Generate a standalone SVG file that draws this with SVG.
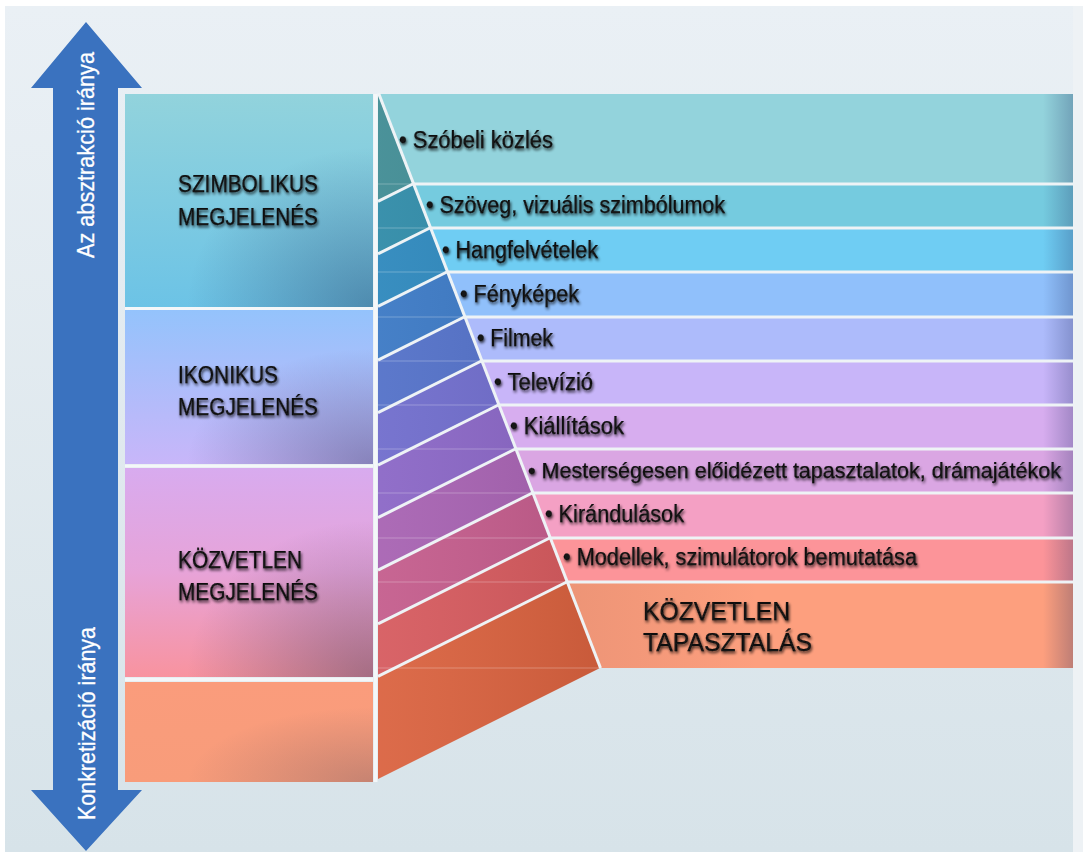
<svg xmlns="http://www.w3.org/2000/svg" width="1083" height="852" viewBox="0 0 1083 852">
<defs>
<style>
.lbl{font-family:"Liberation Sans",Arial,sans-serif;font-size:23.5px;fill:#121212;stroke:#121212;stroke-width:0.25;filter:url(#sh)}
.lng{font-size:21.8px}
.big{font-family:"Liberation Sans",Arial,sans-serif;font-size:23px;fill:#121212;stroke:#121212;stroke-width:0.25;filter:url(#sh)}
.ttl{font-family:"Liberation Sans",Arial,sans-serif;font-size:26px;fill:#121212;stroke:#121212;stroke-width:0.25;filter:url(#sh)}
.arw{font-family:"Liberation Sans",Arial,sans-serif;font-size:24px;fill:#ffffff;stroke:#ffffff;stroke-width:0.3}
.wl{stroke:#eef3f6;stroke-width:3;fill:none}
.fl{stroke:#ffffff;stroke-opacity:0.18;stroke-width:1.5;fill:none}
</style>
<linearGradient id="bg" x1="0" y1="0" x2="0" y2="1">
<stop offset="0" stop-color="#eaf0f5"/><stop offset="1" stop-color="#d7e3e9"/>
</linearGradient>
<linearGradient id="g1" x1="0" y1="0" x2="0" y2="1">
<stop offset="0" stop-color="#92d3dc"/><stop offset="1" stop-color="#6cc3e6"/>
</linearGradient>
<linearGradient id="g2" x1="0" y1="0" x2="0" y2="1">
<stop offset="0" stop-color="#94c3fc"/><stop offset="1" stop-color="#c8b6f9"/>
</linearGradient>
<linearGradient id="g3" x1="0" y1="0" x2="0" y2="1">
<stop offset="0" stop-color="#d8abef"/><stop offset="0.5" stop-color="#e7a3d8"/><stop offset="1" stop-color="#f8939f"/>
</linearGradient>
<linearGradient id="g4" x1="0" y1="0" x2="0" y2="1">
<stop offset="0" stop-color="#fa9c7c"/><stop offset="1" stop-color="#f89c7a"/>
</linearGradient>
<radialGradient id="corner" cx="1" cy="1" r="0.75">
<stop offset="0" stop-color="#1e2f55" stop-opacity="0.38"/><stop offset="1" stop-color="#1e2f55" stop-opacity="0"/>
</radialGradient>
<linearGradient id="redge" x1="0" y1="0" x2="1" y2="0">
<stop offset="0" stop-color="#1e2a60" stop-opacity="0"/><stop offset="1" stop-color="#1e2a60" stop-opacity="0.28"/>
</linearGradient>
<linearGradient id="ledge" gradientUnits="userSpaceOnUse" x1="380" y1="0" x2="760" y2="0">
<stop offset="0" stop-color="#3a1a20" stop-opacity="0.16"/><stop offset="1" stop-color="#3a1a20" stop-opacity="0"/>
</linearGradient>
<linearGradient id="fan" gradientUnits="userSpaceOnUse" x1="378" y1="0" x2="600" y2="0">
<stop offset="0" stop-color="#ffffff" stop-opacity="0.06"/><stop offset="1" stop-color="#000000" stop-opacity="0.08"/>
</linearGradient>
<filter id="sh" x="-10%" y="-40%" width="120%" height="180%">
<feGaussianBlur in="SourceAlpha" stdDeviation="1.8"/>
<feOffset dx="1" dy="2"/>
<feComponentTransfer><feFuncA type="linear" slope="0.8"/></feComponentTransfer>
<feMerge><feMergeNode/><feMergeNode in="SourceGraphic"/></feMerge>
</filter>
</defs>

<rect x="0" y="0" width="1083" height="852" fill="#ffffff"/>
<rect x="5" y="6" width="1068" height="846" fill="url(#bg)"/>
<rect x="1073" y="6" width="10" height="846" fill="#eef2f5"/>

<g id="arrow">
<polygon points="86,22 142,88 118,88 118,790 142,790 86,851 31,790 53,790 53,88 31,88" fill="#3a72bf"/>
<text class="arw" transform="translate(94,155) rotate(-90)" text-anchor="middle" textLength="206" lengthAdjust="spacingAndGlyphs">Az absztrakció iránya</text>
<text class="arw" transform="translate(95,723.5) rotate(-90)" text-anchor="middle" textLength="193" lengthAdjust="spacingAndGlyphs">Konkretizáció iránya</text>
</g>

<g id="box-szimbolikus">
<rect x="125" y="94" width="248" height="213" fill="url(#g1)"/>
<rect x="125" y="94" width="248" height="213" fill="url(#corner)"/>
<text class="big" x="178" y="192" textLength="140" lengthAdjust="spacingAndGlyphs">SZIMBOLIKUS</text>
<text class="big" x="178" y="225" textLength="140" lengthAdjust="spacingAndGlyphs">MEGJELENÉS</text>
</g>
<g id="box-ikonikus">
<rect x="125" y="310" width="248" height="154" fill="url(#g2)"/>
<rect x="125" y="310" width="248" height="154" fill="url(#corner)"/>
<text class="big" x="178" y="383" textLength="100" lengthAdjust="spacingAndGlyphs">IKONIKUS</text>
<text class="big" x="178" y="415" textLength="140" lengthAdjust="spacingAndGlyphs">MEGJELENÉS</text>
</g>
<g id="box-kozvetlen">
<rect x="125" y="468" width="248" height="209" fill="url(#g3)"/>
<rect x="125" y="468" width="248" height="209" fill="url(#corner)"/>
<text class="big" x="178" y="568" textLength="124" lengthAdjust="spacingAndGlyphs">KÖZVETLEN</text>
<text class="big" x="178" y="600" textLength="140" lengthAdjust="spacingAndGlyphs">MEGJELENÉS</text>
</g>
<g id="box-alap">
<rect x="125" y="682" width="248" height="100" fill="url(#g4)"/>
<rect x="125" y="682" width="248" height="100" fill="url(#corner)" opacity="0.6"/>
</g>

<g id="fan-stripes">
<polygon points="378,94 412.8,184 378,201.4" fill="#3f8b93"/>
<polygon points="378,201.4 412.8,184 429.8,228 378,253.9" fill="#2e8aa7"/>
<polygon points="378,253.9 429.8,228 446.8,272 378,306.4" fill="#2c87bc"/>
<polygon points="378,306.4 446.8,272 464.2,317 378,360.1" fill="#3a78c4"/>
<polygon points="378,360.1 464.2,317 481.3,361 378,412.6" fill="#5270c8"/>
<polygon points="378,412.6 481.3,361 498.3,405 378,465.1" fill="#6f6ccc"/>
<polygon points="378,465.1 498.3,405 515.3,449 378,517.6" fill="#8a66c6"/>
<polygon points="378,517.6 515.3,449 532.3,493 378,570.2" fill="#a762b2"/>
<polygon points="378,570.2 532.3,493 549.7,538 378,623.9" fill="#c45c8c"/>
<polygon points="378,623.9 549.7,538 566.7,582 378,676.4" fill="#d65a5e"/>
<polygon points="378,676.4 566.7,582 600,668 378,779" fill="#da623f"/>
<polygon points="378,94 600,668 378,779" fill="url(#fan)"/>
</g>

<g id="band-1"><polygon points="378,94 1073,94 1073,184 412.8,184" fill="#93d3dc"/>
<text class="lbl" x="399" y="148" textLength="154" lengthAdjust="spacingAndGlyphs">• Szóbeli közlés</text></g>
<g id="band-2"><polygon points="412.8,184 1073,184 1073,228 429.8,228" fill="#75cbdf"/>
<text class="lbl" x="426" y="213" textLength="299" lengthAdjust="spacingAndGlyphs">• Szöveg, vizuális szimbólumok</text></g>
<g id="band-3"><polygon points="429.8,228 1073,228 1073,272 446.8,272" fill="#6fcdf3"/>
<text class="lbl" x="442" y="258" textLength="156" lengthAdjust="spacingAndGlyphs">• Hangfelvételek</text></g>
<g id="band-4"><polygon points="446.8,272 1073,272 1073,317 464.2,317" fill="#90c0fb"/>
<text class="lbl" x="460" y="302" textLength="119" lengthAdjust="spacingAndGlyphs">• Fényképek</text></g>
<g id="band-5"><polygon points="464.2,317 1073,317 1073,361 481.3,361" fill="#adbbfb"/>
<text class="lbl" x="477" y="346" textLength="76" lengthAdjust="spacingAndGlyphs">• Filmek</text></g>
<g id="band-6"><polygon points="481.3,361 1073,361 1073,405 498.3,405" fill="#c8b5f9"/>
<text class="lbl" x="494" y="390" textLength="99" lengthAdjust="spacingAndGlyphs">• Televízió</text></g>
<g id="band-7"><polygon points="498.3,405 1073,405 1073,449 515.3,449" fill="#d7adef"/>
<text class="lbl" x="510" y="434" textLength="114" lengthAdjust="spacingAndGlyphs">• Kiállítások</text></g>
<g id="band-8"><polygon points="515.3,449 1073,449 1073,493 532.3,493" fill="#daa6e3"/>
<text class="lbl lng" x="528" y="478" textLength="533" lengthAdjust="spacingAndGlyphs">• Mesterségesen előidézett tapasztalatok, drámajátékok</text></g>
<g id="band-9"><polygon points="532.3,493 1073,493 1073,538 549.7,538" fill="#f4a0c4"/>
<text class="lbl" x="545" y="522" textLength="139" lengthAdjust="spacingAndGlyphs">• Kirándulások</text></g>
<g id="band-10"><polygon points="549.7,538 1073,538 1073,582 566.7,582" fill="#fc9499"/>
<text class="lbl" x="563" y="565" textLength="354" lengthAdjust="spacingAndGlyphs">• Modellek, szimulátorok bemutatása</text></g>
<g id="band-11"><polygon points="566.7,582 1073,582 1073,668 600,668" fill="#fd9f7e"/>
<polygon points="566.7,582 760,582 760,668 600,668" fill="url(#ledge)"/>
<text class="ttl" x="643" y="620" textLength="147" lengthAdjust="spacingAndGlyphs">KÖZVETLEN</text>
<text class="ttl" x="643" y="651" textLength="169" lengthAdjust="spacingAndGlyphs">TAPASZTALÁS</text></g>

<rect x="1043" y="94" width="30" height="574" fill="url(#redge)"/>

<g id="connectors">
<line class="fl" x1="378" y1="184" x2="412.8" y2="184"/>
<line class="fl" x1="378" y1="228" x2="429.8" y2="228"/>
<line class="fl" x1="378" y1="272" x2="446.8" y2="272"/>
<line class="fl" x1="378" y1="317" x2="464.2" y2="317"/>
<line class="fl" x1="378" y1="361" x2="481.3" y2="361"/>
<line class="fl" x1="378" y1="405" x2="498.3" y2="405"/>
<line class="fl" x1="378" y1="449" x2="515.3" y2="449"/>
<line class="fl" x1="378" y1="493" x2="532.3" y2="493"/>
<line class="fl" x1="378" y1="538" x2="549.7" y2="538"/>
<line class="fl" x1="378" y1="582" x2="566.7" y2="582"/>
<line class="fl" x1="378" y1="668" x2="600" y2="668"/>
<line class="wl" x1="412.8" y1="184" x2="1073" y2="184"/>
<line class="wl" x1="429.8" y1="228" x2="1073" y2="228"/>
<line class="wl" x1="446.8" y1="272" x2="1073" y2="272"/>
<line class="wl" x1="464.2" y1="317" x2="1073" y2="317"/>
<line class="wl" x1="481.3" y1="361" x2="1073" y2="361"/>
<line class="wl" x1="498.3" y1="405" x2="1073" y2="405"/>
<line class="wl" x1="515.3" y1="449" x2="1073" y2="449"/>
<line class="wl" x1="532.3" y1="493" x2="1073" y2="493"/>
<line class="wl" x1="549.7" y1="538" x2="1073" y2="538"/>
<line class="wl" x1="566.7" y1="582" x2="1073" y2="582"/>
<line class="wl" x1="378" y1="201.4" x2="412.8" y2="184"/>
<line class="wl" x1="378" y1="253.9" x2="429.8" y2="228"/>
<line class="wl" x1="378" y1="306.4" x2="446.8" y2="272"/>
<line class="wl" x1="378" y1="360.1" x2="464.2" y2="317"/>
<line class="wl" x1="378" y1="412.6" x2="481.3" y2="361"/>
<line class="wl" x1="378" y1="465.1" x2="498.3" y2="405"/>
<line class="wl" x1="378" y1="517.6" x2="515.3" y2="449"/>
<line class="wl" x1="378" y1="570.2" x2="532.3" y2="493"/>
<line class="wl" x1="378" y1="623.9" x2="549.7" y2="538"/>
<line class="wl" x1="378" y1="676.4" x2="566.7" y2="582"/>
<line class="wl" x1="378.5" y1="93" x2="600.5" y2="668"/>
<line x1="375.5" y1="94" x2="375.5" y2="782" stroke="#f4f7f9" stroke-width="4"/>
<line x1="125" y1="308.5" x2="373" y2="308.5" stroke="#f4f7f9" stroke-width="3"/>
<line x1="125" y1="466" x2="373" y2="466" stroke="#f4f7f9" stroke-width="3"/>
<line x1="125" y1="679.5" x2="373" y2="679.5" stroke="#f4f7f9" stroke-width="4"/>
</g>
</svg>
